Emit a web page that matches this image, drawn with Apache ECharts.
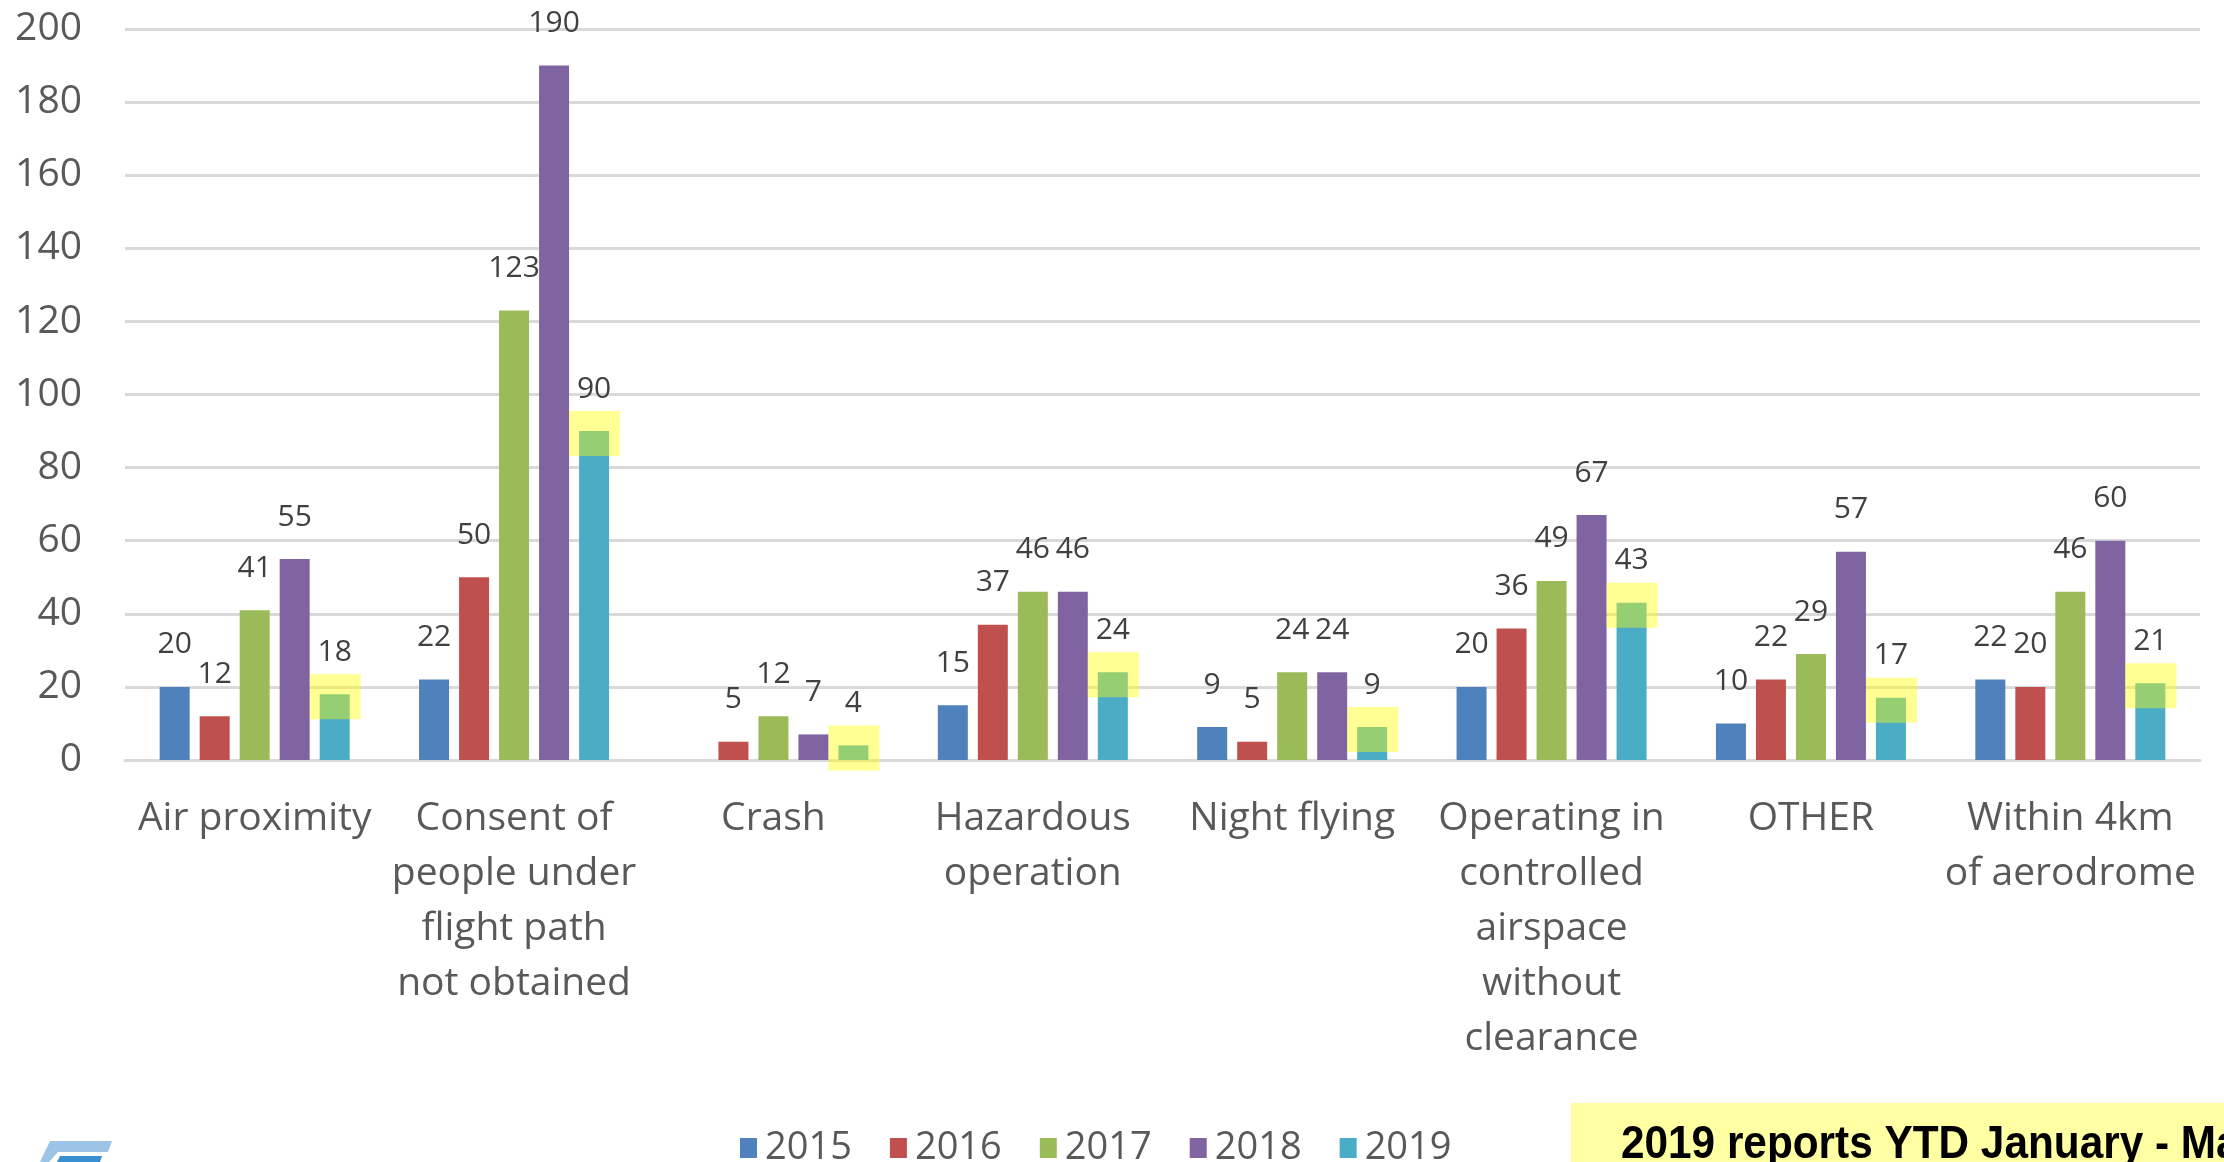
<!DOCTYPE html>
<html><head><meta charset="utf-8">
<script src="https://cdn.jsdelivr.net/npm/echarts@6/dist/echarts.min.js"></script>
<style>html,body{margin:0;padding:0;background:#fff}#c{width:2224px;height:1162px}</style>
</head><body><div id="c"></div>
<script>
const categories = ['Air proximity', 'Consent of people under flight path not obtained', 'Crash', 'Hazardous operation', 'Night flying', 'Operating in controlled airspace without clearance', 'OTHER', 'Within 4km of aerodrome'];
const categoryLabels = ['Air proximity', 'Consent of\npeople under\nflight path\nnot obtained', 'Crash', 'Hazardous\noperation', 'Night flying', 'Operating in\ncontrolled\nairspace\nwithout\nclearance', 'OTHER', 'Within 4km\nof aerodrome'];
const years = ['2015', '2016', '2017', '2018', '2019'];
const v2015 = [20, 22, null, 15, 9, 20, 10, 22];
const v2016 = [12, 50, 5, 37, 5, 36, 22, 20];
const v2017 = [41, 123, 12, 46, 24, 49, 29, 46];
const v2018 = [55, 190, 7, 46, 24, 67, 57, 60];
const v2019 = [18, 90, 4, 24, 9, 43, 17, 21];
const yearValues = [v2015, v2016, v2017, v2018, v2019];
const colors = ['#4F81BD', '#C0504D', '#9BBB59', '#8064A2', '#4BACC6'];
const note = '2019 reports YTD January - March';

const FONT = '"Open Sans", "Noto Sans", sans-serif';
const BAR_W = 30, BAR_GAP = 10;

const chart = echarts.init(document.getElementById('c'), null, {renderer: 'canvas'});

const barSeries = years.map((y, i) => ({
  name: y,
  type: 'bar',
  data: yearValues[i],
  barWidth: BAR_W,
  barGap: (BAR_GAP / BAR_W * 100) + '%',
  itemStyle: {color: colors[i]},
  label: {
    show: true, position: 'top', distance: 27,
    fontSize: 30, color: '#404040', fontFamily: FONT
  },
  z: 2
}));

const highlight = {
  name: 'highlight',
  type: 'custom',
  data: v2019.map((v, i) => [i, v]),
  encode: {x: 0, y: 1},
  z: 3,
  silent: true,
  renderItem: (params, api) => {
    const c = api.coord([api.value(0), api.value(1)]);
    const cx = c[0] + 2 * (BAR_W + BAR_GAP);
    return {
      type: 'rect',
      shape: {x: cx - 25, y: c[1] - 20, width: 51, height: 45},
      style: {fill: 'rgba(255,255,0,0.42)'}
    };
  }
};

chart.setOption({
  animation: false,
  backgroundColor: '#ffffff',
  grid: {left: 125, right: 24, top: 29, bottom: 402, containLabel: false},
  legend: {
    data: years, left: 740, top: 1129, padding: 0,
    icon: 'rect', itemWidth: 17, itemHeight: 20, itemGap: 38,
    textStyle: {fontSize: 38, color: '#595959', fontFamily: FONT, padding: [0, 0, 0, 3]}
  },
  xAxis: {
    type: 'category',
    data: categoryLabels,
    axisTick: {show: false},
    axisLine: {lineStyle: {color: '#D9D9D9', width: 3}},
    axisLabel: {interval: 0, fontSize: 39, lineHeight: 55, color: '#595959', margin: 31, fontFamily: FONT}
  },
  yAxis: {
    type: 'value', min: 0, max: 200, interval: 20,
    axisLine: {show: false}, axisTick: {show: false},
    splitLine: {lineStyle: {color: '#D9D9D9', width: 3}},
    axisLabel: {fontSize: 39, color: '#595959', margin: 43, fontFamily: FONT}
  },
  series: [...barSeries, highlight],
  graphic: [
    {type: 'polygon', shape: {points: [[50, 1141], [112, 1141], [108, 1152], [58, 1152], [49, 1162], [40, 1162]]}, style: {fill: '#9DC3E6'}},
    {type: 'polygon', shape: {points: [[60, 1156], [102, 1156], [100, 1162], [57, 1162]]}, style: {fill: '#3A8FD0'}},
    {type: 'rect', shape: {x: 1571, y: 1103, width: 700, height: 70}, style: {fill: '#FFFFA3'}},
    {type: 'text', x: 1621, y: 1168, scaleX: 0.92, style: {text: note, fontSize: 46, fontWeight: 'bold', fill: '#000', fontFamily: '"Liberation Sans", Arial, sans-serif', verticalAlign: 'bottom'}}
  ]
});
</script></body></html>
